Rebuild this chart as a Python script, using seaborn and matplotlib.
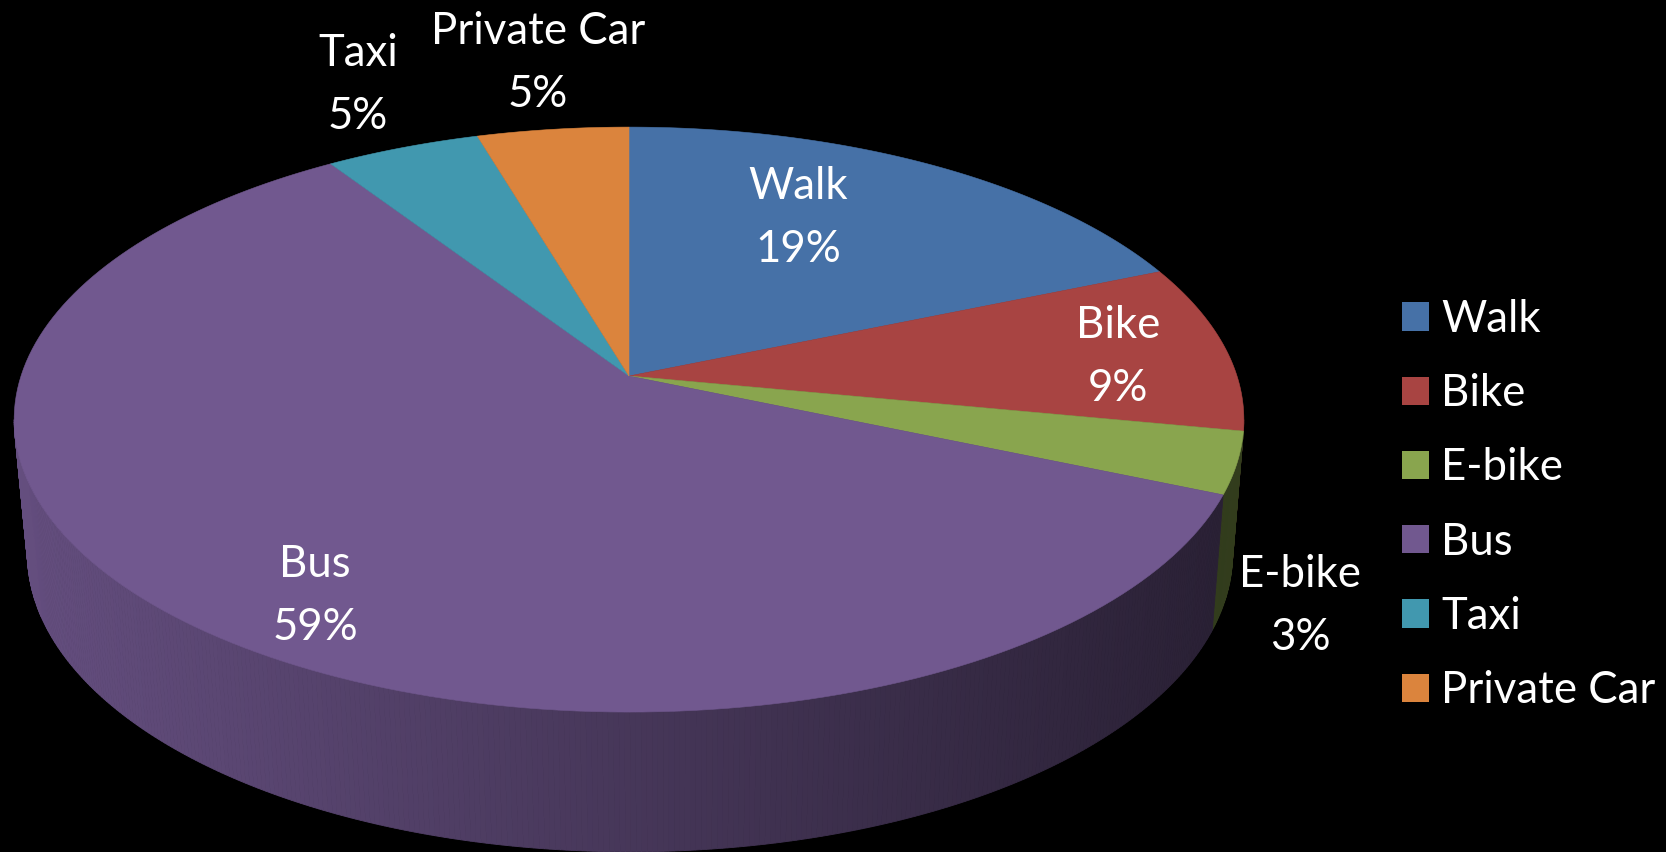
import numpy as np
import matplotlib
matplotlib.use("Agg")
import matplotlib.pyplot as plt
from matplotlib.patches import Patch
import seaborn as sns

# ---- data ----
categories = ["Walk", "Bike", "E-bike", "Bus", "Taxi", "Private Car"]
shares = [18.7, 9.3, 3.4, 59.3, 4.7, 4.6]
slice_colors = ["#4671A7", "#A84442", "#89A54E", "#71588F", "#4198AF", "#DB843D"]

# ---- layout (pixels) ----
label_centres = [(798, 218), (1118, 357), (1300, 606), (315, 596), (358, 85), (538, 63)]
FONT = "Lato"
FS = 31.5
CX, CY = 629, 376          # where the pie centre is seen
TILT = 0.149               # perspective foreshortening
AX_X, AX_Y = 608, 286      # projected disc scale
RIM_X, RIM_Y, RIM_DROP, RIM_SHIFT = 0.98, 1.02, 133, 1   # lower rim of the drum

sns.set_theme(style="dark", rc={"axes.facecolor": "black", "figure.facecolor": "black",
                                "text.color": "white"})
palette = sns.color_palette(slice_colors)


def project(theta, r=1.0):
    """theta clockwise from 12 o'clock on the disc -> picture position."""
    x = r * np.sin(theta)
    y = -r * np.cos(theta)
    d = 1 - TILT * y
    return AX_X * x / d, AX_Y * y / d


def shade(x):
    return np.clip(0.88 - 0.50 * (x - 30) / 1170, 0.3, 1)


fig = plt.figure(figsize=(16.66, 8.52), dpi=100, facecolor="black")
ax = fig.add_axes([0, 0, 1, 1])
ax.set_xlim(0, 1666)
ax.set_ylim(852, 0)
ax.axis("off")

fractions = np.array(shares) / np.sum(shares)
edges = np.concatenate([[0], np.cumsum(fractions)]) * 2 * np.pi

# drum side, front part only
front_start = np.pi / 2 + np.arcsin(TILT)
front_end = 2 * np.pi - np.pi / 2 - np.arcsin(TILT)
for i, col in enumerate(palette):
    a0, a1 = max(edges[i], front_start), min(edges[i + 1], front_end)
    if a1 <= a0:
        continue
    ts = np.linspace(a0, a1, max(2, int((a1 - a0) * 130)))
    px, py = project(ts)
    top_x, top_y = CX + px, CY + py
    low_x, low_y = CX + px * RIM_X + RIM_SHIFT, CY + py * RIM_Y + RIM_DROP
    for j in range(len(ts) - 1):
        s = shade((top_x[j] + top_x[j + 1]) / 2)
        c = tuple(v * s for v in col)
        ax.fill([top_x[j], top_x[j + 1], low_x[j + 1], low_x[j]],
                [top_y[j], top_y[j + 1], low_y[j + 1], low_y[j]],
                facecolor=c, edgecolor=c, linewidth=0.6, zorder=2)

# top faces
for i, col in enumerate(palette):
    ts = np.linspace(edges[i], edges[i + 1], 160)
    px, py = project(ts)
    ax.fill(np.r_[CX, CX + px], np.r_[CY, CY + py], facecolor=col, edgecolor=col,
            linewidth=0.4, zorder=3)

# labels
for name, f, (lx, ly) in zip(categories, fractions, label_centres):
    ax.text(lx, ly, f"{name}\n{round(f * 100)}%", ha="center", va="center", color="white",
            family=FONT, fontsize=FS, linespacing=1.64, zorder=5)

# legend
handles = [Patch(facecolor=c, edgecolor="none", label=n) for c, n in zip(palette, categories)]
fs_px = FS * 100 / 72
leg = ax.legend(handles=handles, loc="upper left", bbox_to_anchor=(1402 / 1666, 1 - 299 / 852),
                frameon=False, prop={"family": FONT, "size": FS},
                borderpad=0, borderaxespad=0, handlelength=27 / fs_px, handleheight=27 / fs_px,
                handletextpad=12 / fs_px, labelspacing=0.76)
for t in leg.get_texts():
    t.set_color("white")

fig.savefig("out.png", dpi=100, facecolor="black")
